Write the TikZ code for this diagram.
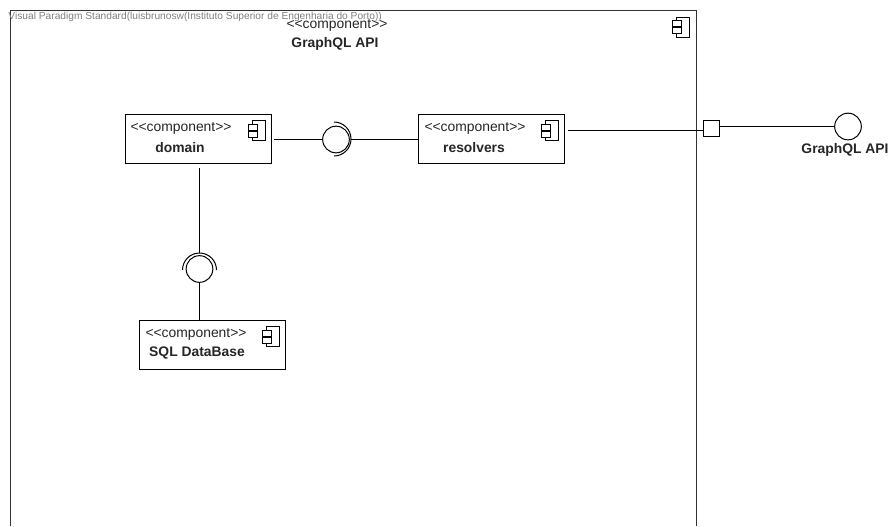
\documentclass[tikz,border=0pt]{standalone}
\usepackage{fontspec}
\setmainfont{Liberation Sans}
\usetikzlibrary{positioning}

\begin{document}
\begin{tikzpicture}[x=0.75pt, y=-0.75pt, line width=0.75pt, font=\fontsize{10.4}{12}\selectfont,
  comp/.style={draw, fill=white, minimum width=109.5pt, minimum height=36.75pt, inner sep=0pt},
  ster/.style={inner sep=0pt, text=black!85},
  title/.style={inner sep=0pt, font=\fontsize{10.4}{12}\selectfont\bfseries, text=black!85},
  ball/.style={draw, fill=white, circle, minimum size=20pt, inner sep=0pt},
  portbox/.style={draw, fill=white, minimum size=12pt, inner sep=0pt},
  icon/.pic={
    \draw (-4,-10) rectangle (9,10);
    \draw[fill=white] (-8,-6.5) rectangle (1,-0.5);
    \draw[fill=white] (-8,0.5) rectangle (1,6.5);
  }]

\useasboundingbox (0,0) rectangle (889,526);

% Outer component, open at the bottom of the page
\draw[draw=black!80] (10.5,526) -- (10.5,10.5) -- (696.5,10.5) -- (696.5,526);
\pic at (680,27) {icon};
\node[ster] (apister) at (337,25) {<{}<component>{}>};
\node[title] (apiname) at (335,44) {GraphQL API};

% Watermark
\node[inner sep=0pt, anchor=west, text=black!50, font=\fontsize{7.65}{9}\selectfont] (mark) at (8,16.5) {Visual Paradigm Standard(luisbrunosw(Instituto Superior de Engenharia do Porto))};

% Inner components
\node[comp] (domain) at (198.5,139) {};
\node[comp] (resolvers) at (491.5,139) {};
\node[comp] (sql) at (212.5,345) {};
\pic at (256,130.5) {icon};
\pic at (549,130.5) {icon};
\pic at (270,336.5) {icon};
\node[ster, anchor=west] (domainster) at (130,128.5) {<{}<component>{}>};
\node[title] (domainname) at (180,147.5) {domain};
\node[ster, anchor=west] (resolversster) at (424,128.5) {<{}<component>{}>};
\node[title] (resolversname) at (474,147.5) {resolvers};
\node[ster, anchor=west] (sqlster) at (145,334.5) {<{}<component>{}>};
\node[title] (sqlname) at (197,353.5) {SQL DataBase};

% domain to resolvers
\node[ball] (ballone) at (336,139.5) {};
\coordinate (sockone) at (351,139.5);
\draw (334,122) arc[start angle=90, end angle=-90, radius=12.75pt];
\draw (domain.east |- ballone) ++(2,0) -- (ballone.west);
\draw (sockone) -- (resolvers.west |- sockone);

% domain to SQL DataBase
\node[ball] (balltwo) at (199.5,269) {};
\coordinate (socktwo) at (199.5,253);
\draw (182.5,270) arc[start angle=180, end angle=0, radius=12.75pt];
\draw (domain.south -| socktwo) ++(0,4) -- (socktwo);
\draw (balltwo.south) -- (sql.north -| balltwo);

% resolvers to the provided interface
\node[portbox] (apiport) at (711.5,128.5) {};
\node[ball] (apiball) at (848,126.5) {};
\node[title] (apilabel) at (845,150) {GraphQL API};
\coordinate (portin) at (703,130.5);
\draw (resolvers.east |- portin) ++(3,0) -- (portin);
\draw (apiport.east |- apiball) -- (apiball.west);

\end{tikzpicture}
\end{document}
